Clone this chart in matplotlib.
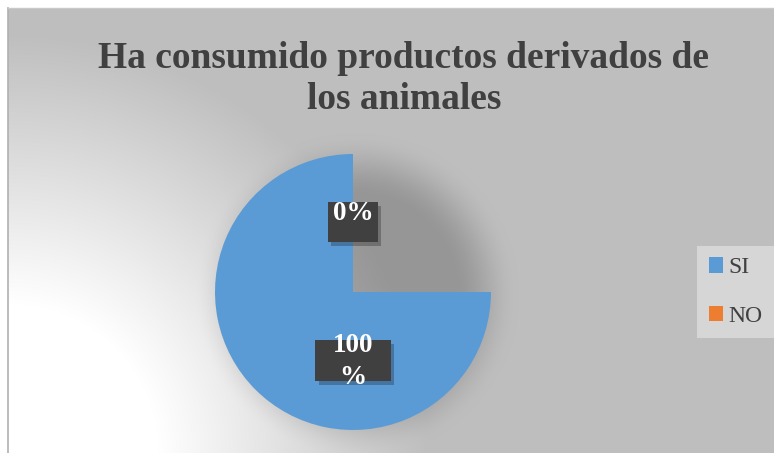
import numpy as np
import matplotlib
matplotlib.use('Agg')
import matplotlib.pyplot as plt
from matplotlib.patches import Rectangle

#region Data
categories = ['SI', 'NO']
pct_labels = ['100\n%', '0%']
# share of the circle that is actually painted in the picture
painted_share = [0.75, 0.0]
colors = ['#5B9BD5', '#ED7D31']
title = 'Ha consumido productos derivados de\nlos animales'
#endregion

W, H = 774, 453
fig = plt.figure(figsize=(W / 100, H / 100), dpi=100)
plt.rcParams['font.family'] = ['Liberation Serif', 'DejaVu Serif']

#region Background (gray chart area, white glow, pie shadow)
yy, xx = np.mgrid[0:H, 0:W]
d_glow = np.hypot(xx - 8, yy - 453)
glow = 255 - 65 * np.clip((d_glow - 150) / 270, 0, 1)
cx, cy, r = 353, 292, 138
d_pie = np.hypot(xx - cx - 3, yy - cy - 3)
t = np.clip((d_pie - (r - 40)) / 65, 0, 1)
shade = 0.21 * (1 - t * t * (3 - 2 * t))
bg = glow * (1 - shade)
bg[:8, :] = 255
bg[:, :8] = 255
bg_ax = fig.add_axes([0, 0, 1, 1], zorder=0)
bg_ax.imshow(np.dstack([bg, bg, bg]) / 255, extent=(0, W, H, 0), aspect='auto')
bg_ax.plot([8, 8], [8, H], color='#b0b0b0', lw=1.2)
bg_ax.plot([8, W], [8, 8], color='#c8c8c8', lw=1.0)
bg_ax.set_xlim(0, W)
bg_ax.set_ylim(H, 0)
bg_ax.axis('off')
#endregion

#region Pie
ax = fig.add_axes([(cx - r) / W, (H - cy - r) / H, 2 * r / W, 2 * r / H], zorder=1)
wedges, _ = ax.pie(painted_share, colors=colors, startangle=90, counterclock=True,
                   normalize=False, radius=1, wedgeprops=dict(linewidth=0))
ax.set_xlim(-1, 1)
ax.set_ylim(-1, 1)
ax.axis('off')

# data labels in dark boxes with a small drop shadow
label_pos = [(0, -0.493), (0, 0.507)]
box_size = [(0.55, 0.297), (0.362, 0.29)]
text_shift = [-0.01, 0.065]
for lab, (x, y), (bw, bh), dy in zip(pct_labels, label_pos, box_size, text_shift):
    ax.add_patch(Rectangle((x - bw / 2 + 0.025, y - bh / 2 - 0.03), bw, bh,
                           facecolor='black', alpha=0.25, lw=0, zorder=3))
    ax.add_patch(Rectangle((x - bw / 2, y - bh / 2), bw, bh,
                           facecolor='#404040', lw=0, zorder=4))
    ax.text(x, y + dy, lab, ha='center', va='center', color='white',
            fontsize=19.5, fontweight='bold', linespacing=1.4, zorder=5)
#endregion

fig.text(404 / W, 1 - 79 / H, title, ha='center', va='center', color='#404040',
         fontsize=27, fontweight='bold', linespacing=1.22)

leg = fig.legend(wedges, categories, loc='center left',
                 bbox_to_anchor=(697 / W, 1 - 292 / H), fontsize=17,
                 frameon=True, fancybox=False, handlelength=0.62, handleheight=0.62,
                 handletextpad=0.2, labelspacing=1.15, borderpad=0.5,
                 borderaxespad=0)
leg.get_frame().set_facecolor('#d6d6d6')
leg.get_frame().set_edgecolor('none')
leg.get_frame().set_alpha(1)
for txt in leg.get_texts():
    txt.set_color('#404040')

fig.savefig('out.png', dpi=100)
